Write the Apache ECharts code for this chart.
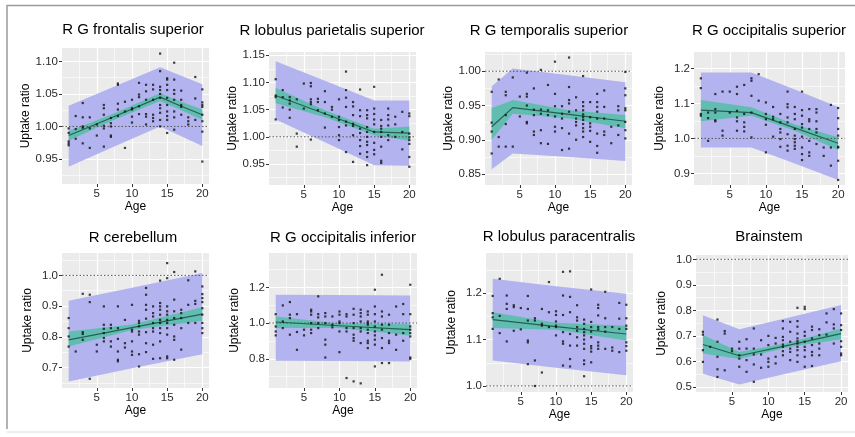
<!DOCTYPE html>
<html><head><meta charset="utf-8">
<script src="https://cdn.jsdelivr.net/npm/echarts@6/dist/echarts.min.js"></script>
<style>html,body{margin:0;padding:0;background:#fff}#c{width:855px;height:437px}</style>
</head><body><div id="c"></div>
<script>
// ---------- DATA ----------
const titles = ['R G frontalis superior','R lobulus parietalis superior','R G temporalis superior','R G occipitalis superior',
                'R cerebellum','R G occipitalis inferior','R lobulus paracentralis','Brainstem'];
const xMajor = [5,10,15,20];
const xMinor = [2.5,7.5,12.5,17.5];

// points grouped by age (index 0 = age 1 ... index 19 = age 20)
const frontalisPts = [[0.997,0.990,0.977,0.974,0.971],[1.016,0.996,0.981],[1.036,1.014,1.000,0.998,0.974],[1.014,0.997,0.967],[1.003,0.986],
 [1.033,1.028,1.018,1.001,0.997,0.969],[1.013,1.005,1.000,0.986,0.984],[1.066,1.064,1.035,1.026,1.016],[1.038,1.023,0.967],[1.041,1.028,1.026,1.015,1.006],
 [1.067,1.049,1.045,1.031,1.019],[1.064,1.054,1.041,1.019,1.015,1.003],[1.064,1.057,1.041,1.018,1.013,1.008],
 [1.112,1.085,1.061,1.056,1.050,1.044,1.033,1.028,1.021,1.010,1.000],[1.074,1.072,1.064,1.056,1.044,1.033,1.023,1.016,1.010,0.990],
 [1.098,1.072,1.056,1.050,1.041,1.023,1.014,0.995],[1.055,1.041,1.033,1.030,1.018],[1.014,1.008,1.003],[1.076,1.043,1.010],
 [1.057,1.037,1.033,1.030,1.018,1.008,0.992,0.946]];
const parietalisPts = [[1.106,1.076,1.073,1.032],[1.086,1.073,1.054],[1.073,1.067,1.061,1.050,1.035],[1.069,1.006,0.982],[1.098,1.052],
 [1.099,1.093,1.069,1.064,1.060,0.995],[1.070,1.064,1.049],[1.084,1.064,1.043,1.017],[1.055,1.050,1.037],[1.069,1.037,1.031,1.018,1.003,0.994],
 [1.120,1.086,1.072,1.055,1.028,1.021,0.972],[1.064,1.056,1.040,1.024,1.020,1.003,0.954],[1.087,1.049,1.038,1.015,1.007,0.994,0.983,0.969],
 [1.049,1.040,1.034,1.018,1.009,1.000,0.991,0.985,0.972,0.963,0.948],[1.092,1.052,1.042,1.032,1.023,1.009,0.989,0.976,0.968],
 [1.031,1.020,1.015,1.009,1.000,0.982,0.956,0.952],[1.052,1.040,1.032,1.021,1.003,0.994],[1.037,1.023,1.000],[1.046,1.009,0.977],
 [1.043,1.038,1.006,0.999,0.994,0.987,0.963,0.945]];
const temporalisPts = [[0.970,0.925,0.912,0.880],[0.988,0.904,0.890],[0.970,0.965,0.936,0.923,0.890],[0.991,0.890],[0.963,0.934],
 [0.998,0.967,0.963,0.950,0.926,0.924],[0.975,0.944,0.936,0.912,0.907],[1.002,0.944,0.938,0.914,0.895],[0.980,0.943,0.936,0.894],
 [1.014,0.967,0.949,0.934,0.919,0.912],[0.949,0.938,0.931,0.917,0.885],[1.020,0.977,0.958,0.953,0.941,0.909,0.887],
 [0.962,0.943,0.931,0.926,0.921,0.900],[0.993,0.955,0.949,0.943,0.937,0.933,0.929,0.923,0.917,0.912,0.904],
 [0.955,0.933,0.924,0.919,0.913,0.897],[0.967,0.955,0.948,0.941,0.931,0.909,0.891,0.881],[0.972,0.948,0.931,0.912,0.907],
 [0.919,0.895],[0.949,0.943,0.921,0.907],[0.999,0.975,0.965,0.946,0.943,0.926,0.914,0.902]];
const occSupPts = [[1.172,1.144,1.070,1.065],[1.074,1.058,0.993],[1.127,1.084,1.074,1.052,1.049],[1.134,1.022,1.008],[1.134,1.074],
 [1.148,1.127,1.079,1.060,1.049,1.022],[1.153,1.070,1.046,1.033,1.020],[1.172,1.165,1.122,1.074,1.003],[1.184,1.108],
 [1.103,1.070,1.055,1.039,0.960],[1.090,1.062,1.055,1.005],[1.070,1.046,1.027,1.017,0.998,0.976],
 [1.134,1.098,1.089,1.060,1.046,1.012,0.979,0.965],[1.090,1.070,1.055,1.027,1.008,0.998,0.989,0.979,0.970],
 [1.134,1.081,1.065,1.041,1.031,1.005,0.974,0.955,0.938],[1.084,1.055,1.049,1.027,0.993,0.960,0.950],
 [1.084,1.074,1.049,1.027,1.017,0.984],[0.974,0.950],[1.096,0.974,0.922],[1.087,1.058,1.027,1.008,0.976,0.974,0.936,0.881]];
const cerebellumPts = [[0.861,0.828,0.801,0.768],[0.752],[0.940,0.815,0.809,0.790],[0.937,0.913,0.663],[0.774,0.752],
 [0.899,0.839,0.826,0.812,0.796,0.785],[0.839,0.828,0.785,0.768],[0.899,0.828,0.793,0.752,0.725,0.720],[0.855,0.779,0.765],
 [0.904,0.823,0.817,0.785,0.752,0.741],[0.852,0.845,0.834,0.817,0.807,0.743,0.703],[0.959,0.937,0.904,0.888,0.859,0.815,0.779,0.750],
 [0.899,0.877,0.866,0.845,0.828,0.817,0.774,0.728],[0.983,0.910,0.899,0.888,0.872,0.855,0.845,0.828,0.812,0.785,0.730],
 [1.040,0.991,0.899,0.883,0.872,0.855,0.845,0.828,0.807,0.736,0.730],[1.011,0.921,0.883,0.861,0.839,0.801,0.790,0.725],
 [0.888,0.877,0.861,0.828,0.758],[0.984,0.904,0.845],[1.013,0.917,0.907,0.845],[0.964,0.939,0.926,0.913,0.893,0.872,0.845,0.828,0.812]];
const occInfPts = [[1.050,0.981,0.953,0.931],[1.099,1.009,0.972],[1.118,1.047,1.028,0.935],[1.050,0.950,0.850],[0.963,0.931],
 [1.075,1.065,1.047,1.000,0.963,0.944],[1.150,1.050,1.032,1.000,0.972],[1.056,1.037,1.000,0.907,0.879,0.807],[1.037,0.991,0.976],
 [1.065,1.047,1.009,1.000,0.953,0.837],[1.050,1.037,0.972,0.953,0.692],[1.080,1.047,1.000,0.972,0.935,0.916,0.901,0.673],
 [1.075,1.056,1.037,1.009,0.972,0.953,0.888,0.662],[1.065,1.047,1.009,1.000,0.991,0.963,0.944,0.901,0.888,0.860],
 [1.187,1.093,1.050,1.009,0.981,0.953,0.931,0.907,0.879,0.757],[1.271,1.065,1.037,0.991,0.963,0.916,0.860,0.776],
 [1.047,0.991,0.944,0.901,0.888,0.776],[1.093,0.935,0.850],[1.107,1.050,0.944,0.901],[1.215,1.050,0.981,0.963,0.944,0.925,0.807,0.800]];
const paracentralisPts = [[1.194,1.157,1.148,1.123],[1.231,1.151,1.114],[1.195,1.177,1.166,1.096],[1.174,1.170,1.119],[1.168,1.122],
 [1.194,1.166,1.141,1.098,1.094,1.047],[1.146,1.141,1.055,1.000],[1.166,1.134,1.130,1.029],[1.224,1.159,1.127],
 [1.161,1.153,1.139,1.130,1.127,1.109],[1.246,1.195,1.153,1.116,1.096,1.091,1.044],[1.247,1.192,1.159,1.112,1.087,1.058,1.042],
 [1.174,1.148,1.141,1.127,1.119,1.105,1.087],[1.143,1.134,1.123,1.116,1.109,1.100,1.091,1.080,1.055,1.047,1.021],
 [1.208,1.138,1.127,1.117,1.105,1.086,1.081,1.074,1.051],[1.175,1.168,1.152,1.127,1.122,1.094,1.087,1.080],
 [1.203,1.146,1.127,1.117,1.080],[1.127,1.083,1.076],[1.179,1.145,1.123,1.073],[1.175,1.146,1.130,1.123,1.094,1.086,1.076]];
const brainstemPts = [[0.716,0.705,0.644,0.598],[0.657],[0.764,0.677,0.618,0.569,0.539],[0.719,0.709,0.565],[0.650,0.640],
 [0.677,0.650,0.624,0.611,0.579],[0.687,0.650,0.605,0.559],[0.729,0.650,0.627,0.588,0.520],[0.683,0.627,0.575],
 [0.700,0.664,0.611,0.598,0.579],[0.692,0.670,0.618,0.592],[0.758,0.729,0.696,0.683,0.666,0.657,0.640,0.624],
 [0.755,0.716,0.677,0.650,0.637,0.605],[0.810,0.758,0.736,0.709,0.690,0.679,0.670,0.657,0.644,0.624,0.598],
 [0.814,0.805,0.716,0.700,0.677,0.657,0.644,0.618,0.579],[0.736,0.723,0.690,0.664,0.637,0.624,0.582],
 [0.726,0.703,0.670,0.650,0.624],[0.788,0.753,0.705],[0.805,0.745,0.729,0.670],[0.788,0.742,0.723,0.679,0.657,0.631,0.624]];

// fitted curve, confidence band, prediction band at node ages
const nodeAges = [[1,7,14,17,20],[1,8,15,20],[1,4,12,20],[1,8,14,20],[1,10,20],[1,10,20],[1,10,20],[1,6,13,20]];
const fitVals = [[0.986,1.013,1.045,1.031,1.018],[1.076,1.0425,1.009,1.007],[0.919,0.947,0.937,0.927],[1.081,1.074,1.030,0.986],
 [0.790,0.830,0.874],[1.006,0.985,0.963],[1.143,1.128,1.112],[0.666,0.622,0.665,0.709]];
const ciLow = [[0.978,1.008,1.039,1.025,1.010],[1.062,1.036,1.003,0.993],[0.900,0.938,0.931,0.917],[1.049,1.065,1.022,0.967],
 [0.768,0.822,0.852],[0.972,0.972,0.931],[1.125,1.121,1.098],[0.631,0.609,0.657,0.687]];
const ciHigh = [[0.993,1.018,1.051,1.038,1.026],[1.090,1.049,1.015,1.019],[0.946,0.958,0.943,0.936],[1.110,1.089,1.040,1.003],
 [0.817,0.840,0.896],[1.037,0.998,0.994],[1.159,1.136,1.130],[0.703,0.637,0.674,0.729]];
const piLow = [[0.938,0.967,1.000,0.985,0.970],[1.032,0.990,0.948,0.947],[0.857,0.880,0.875,0.869],[0.974,0.974,0.928,0.881],
 [0.654,0.697,0.743],[0.789,0.787,0.785],[1.055,1.039,1.023],[0.552,0.509,0.555,0.601]];
const piHigh = [[1.032,1.059,1.091,1.078,1.065],[1.139,1.103,1.067,1.067],[0.978,1.004,0.994,0.984],[1.189,1.189,1.140,1.090],
 [0.917,0.960,1.008],[1.159,1.157,1.155],[1.231,1.215,1.199],[0.781,0.726,0.773,0.821]];

// y axis ranges and ticks
const yRange = [[0.9115,1.1206],[0.9115,1.156],[0.834,1.0281],[0.8666,1.2474],[0.633,1.073],[0.636,1.393],[0.987,1.2866],[0.480,1.017]];
const yMajor = [[0.95,1.00,1.05,1.10],[0.95,1.00,1.05,1.10,1.15],[0.85,0.90,0.95,1.00],[0.9,1.0,1.1,1.2],
 [0.7,0.8,0.9,1.0],[0.8,1.0,1.2],[1.0,1.1,1.2],[0.5,0.6,0.7,0.8,0.9,1.0]];
const yMinor = [[0.925,0.975,1.025,1.075],[0.925,0.975,1.025,1.075,1.125],[0.875,0.925,0.975,1.025],[0.95,1.05,1.15],
 [0.65,0.75,0.85,0.95,1.05],[0.7,0.9,1.1,1.3],[1.05,1.15,1.25],[0.55,0.65,0.75,0.85,0.95]];
const yDecimals = [2,2,2,1,1,1,1,1];
const allPts = [frontalisPts,parietalisPts,temporalisPts,occSupPts,cerebellumPts,occInfPts,paracentralisPts,brainstemPts];

// ---------- LAYOUT / STYLE ----------
const boxes = [[62,48,147,136],[269,52,147,133],[485,52,147,133],[694,52,151,133],
               [62,253,147,135],[269,253,148,135],[486,253,147,139],[696,255,152,137]];
const titlePos = [[133,30],[332,31],[549,31],[769,31],[133,238],[343,238],[559,237],[769,237]];
const FONT = '"Liberation Sans", Arial, Helvetica, sans-serif';
const PI_COLOR = '#b3b3ef';
const CI_COLOR = '#62bdb1';
const LINE_COLOR = '#245f57';

const opt = {animation:false, backgroundColor:'#fff', grid:[], xAxis:[], yAxis:[], series:[], graphic:[]};

function bandSeries(i, lo, hi, color, z){
  const ages = nodeAges[i];
  return {type:'custom', xAxisIndex:2*i, yAxisIndex:2*i, silent:true, z:z, clip:true,
    data:[[ages[0], lo[0]]],
    renderItem:function(params, api){
      const pts = [];
      for (let k=0;k<ages.length;k++) pts.push(api.coord([ages[k], hi[k]]));
      for (let k=ages.length-1;k>=0;k--) pts.push(api.coord([ages[k], lo[k]]));
      return {type:'polygon', shape:{points:pts}, style:{fill:color, stroke:null}};
    }};
}

for (let i=0;i<8;i++){
  const b = boxes[i];
  opt.grid.push({left:b[0], top:b[1], width:b[2], height:b[3], show:true, backgroundColor:'#EBEBEB',
                 borderWidth:0, containLabel:false, outerBoundsMode:'none'});
  const dec = yDecimals[i];
  opt.xAxis.push({gridIndex:i, type:'value', min:0.05, max:20.95, name:'Age', nameLocation:'middle', nameGap:12,
    nameTextStyle:{fontFamily:FONT, fontSize:12, color:'#000'},
    axisLine:{show:false},
    axisTick:{show:true, length:3, lineStyle:{color:'#333', width:1}, customValues:xMajor},
    axisLabel:{customValues:xMajor, margin:4, fontFamily:FONT, fontSize:11.5, color:'#2b2b2b'},
    splitLine:{show:true, lineStyle:{color:'#fff', width:1.2}}, z:1});
  opt.xAxis.push({gridIndex:i, type:'value', min:0.05, max:20.95,
    axisLine:{show:false}, axisTick:{show:false, customValues:xMinor}, axisLabel:{show:false, customValues:xMinor},
    splitLine:{show:true, lineStyle:{color:'#fff', width:0.6}}, z:0});
  opt.yAxis.push({gridIndex:i, type:'value', min:yRange[i][0], max:yRange[i][1], name:'Uptake ratio',
    nameLocation:'middle', nameGap:28, nameTextStyle:{fontFamily:FONT, fontSize:12, color:'#000'},
    axisLine:{show:false},
    axisTick:{show:true, length:3, lineStyle:{color:'#333', width:1}, customValues:yMajor[i]},
    axisLabel:{customValues:yMajor[i], margin:4, fontFamily:FONT, fontSize:11.5, color:'#2b2b2b',
               formatter:(v)=>Number(v).toFixed(dec)},
    splitLine:{show:true, lineStyle:{color:'#fff', width:1.2}}, z:1});
  opt.yAxis.push({gridIndex:i, type:'value', min:yRange[i][0], max:yRange[i][1],
    axisLine:{show:false}, axisTick:{show:false, customValues:yMinor[i]}, axisLabel:{show:false, customValues:yMinor[i]},
    splitLine:{show:true, lineStyle:{color:'#fff', width:0.6}}, z:0});

  opt.series.push(bandSeries(i, piLow[i], piHigh[i], PI_COLOR, 2));
  opt.series.push(bandSeries(i, ciLow[i], ciHigh[i], CI_COLOR, 3));
  opt.series.push({type:'line', xAxisIndex:2*i, yAxisIndex:2*i, z:4, silent:true, symbol:'none',
    data:nodeAges[i].map((a,k)=>[a, fitVals[i][k]]), lineStyle:{color:LINE_COLOR, width:1.2}});
  opt.series.push({type:'line', xAxisIndex:2*i, yAxisIndex:2*i, z:5, silent:true, symbol:'none',
    data:[[0.05,1],[20.95,1]], lineStyle:{color:'#555', width:1, type:[1.5,2]}});
  const sd = [];
  allPts[i].forEach((vals,k)=>vals.forEach(v=>sd.push([k+1, v])));
  opt.series.push({type:'scatter', xAxisIndex:2*i, yAxisIndex:2*i, z:6, silent:true, data:sd,
    symbol:'rect', symbolSize:2.2, itemStyle:{color:'#111'}});

  opt.graphic.push({type:'text', x:titlePos[i][0], y:titlePos[i][1],
    style:{text:titles[i], fontFamily:FONT, fontSize:15, fill:'#000', align:'center', verticalAlign:'middle'}});
}
opt.graphic.push({type:'line', shape:{x1:7, y1:5.5, x2:855, y2:5.5}, style:{stroke:'#9a9a9a', lineWidth:1.5}});
opt.graphic.push({type:'line', shape:{x1:7, y1:5, x2:7, y2:429}, style:{stroke:'#9a9a9a', lineWidth:1.5}});
opt.graphic.push({type:'line', shape:{x1:7, y1:432, x2:855, y2:432}, style:{stroke:'#dcdcdc', lineWidth:1}});

const chart = echarts.init(document.getElementById('c'), null, {renderer:'canvas'});
chart.setOption(opt);
</script></body></html>
